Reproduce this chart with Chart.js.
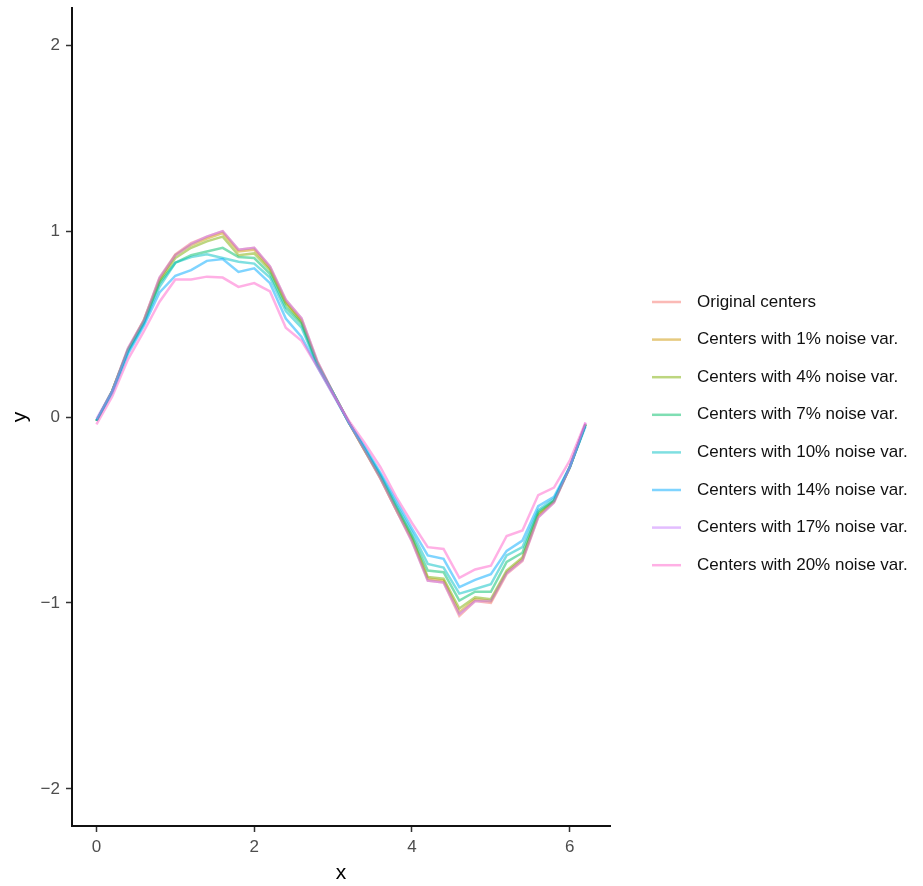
<!DOCTYPE html>
<html>
<head>
<meta charset="utf-8">
<script src="https://cdn.jsdelivr.net/npm/chart.js@4.4.1/dist/chart.umd.min.js"></script>
<style>
  html, body { margin: 0; background: #fff; }
  #wrap { width: 923px; height: 886px; }
</style>
</head>
<body>
<div id="wrap"><canvas id="centers" width="923" height="886"></canvas></div>
<script>
// x positions of the centers
const xValues = [0, 0.2, 0.4, 0.6, 0.8, 1, 1.2, 1.4, 1.6, 1.8, 2, 2.2, 2.4, 2.6, 2.8, 3,
                 3.2, 3.4, 3.6, 3.8, 4, 4.2, 4.4, 4.6, 4.8, 5, 5.2, 5.4, 5.6, 5.8, 6, 6.2];

const original = [-0.02, 0.14, 0.37, 0.52, 0.75, 0.875, 0.935, 0.97, 1.0, 0.90, 0.91, 0.81, 0.63, 0.53, 0.30, 0.13,
                  -0.03, -0.18, -0.33, -0.50, -0.67, -0.88, -0.89, -1.07, -0.99, -1.0, -0.845, -0.775, -0.54, -0.46, -0.27, -0.04];
const noise1 = [-0.02, 0.14, 0.36, 0.52, 0.74, 0.87, 0.925, 0.96, 0.99, 0.89, 0.90, 0.80, 0.62, 0.52, 0.29, 0.13,
                -0.03, -0.18, -0.33, -0.50, -0.66, -0.87, -0.88, -1.05, -0.98, -0.99, -0.835, -0.765, -0.53, -0.455, -0.27, -0.04];
const noise4 = [-0.02, 0.14, 0.36, 0.51, 0.73, 0.855, 0.91, 0.945, 0.97, 0.87, 0.88, 0.79, 0.61, 0.51, 0.29, 0.13,
                -0.03, -0.18, -0.32, -0.49, -0.65, -0.86, -0.87, -1.03, -0.97, -0.98, -0.826, -0.755, -0.52, -0.45, -0.27, -0.04];
const noise7 = [-0.02, 0.14, 0.36, 0.51, 0.72, 0.83, 0.87, 0.89, 0.91, 0.86, 0.855, 0.77, 0.59, 0.50, 0.28, 0.13,
                -0.03, -0.17, -0.32, -0.48, -0.64, -0.826, -0.835, -0.987, -0.94, -0.94, -0.78, -0.73, -0.51, -0.45, -0.27, -0.04];
const noise10 = [-0.02, 0.14, 0.35, 0.50, 0.70, 0.83, 0.86, 0.875, 0.855, 0.835, 0.825, 0.75, 0.57, 0.48, 0.28, 0.13,
                 -0.03, -0.17, -0.31, -0.47, -0.62, -0.79, -0.81, -0.95, -0.925, -0.90, -0.745, -0.70, -0.50, -0.44, -0.27, -0.04];
const noise14 = [-0.02, 0.13, 0.34, 0.49, 0.67, 0.76, 0.79, 0.84, 0.85, 0.78, 0.80, 0.72, 0.53, 0.43, 0.27, 0.12,
                 -0.03, -0.16, -0.30, -0.45, -0.60, -0.745, -0.763, -0.915, -0.876, -0.845, -0.72, -0.665, -0.48, -0.43, -0.27, -0.05];
const noise17 = [-0.01, 0.14, 0.37, 0.52, 0.75, 0.87, 0.93, 0.97, 1.0, 0.90, 0.91, 0.81, 0.63, 0.53, 0.30, 0.13,
                 -0.03, -0.18, -0.33, -0.50, -0.67, -0.88, -0.89, -1.06, -0.99, -0.99, -0.84, -0.77, -0.54, -0.46, -0.27, -0.03];
const noise20 = [-0.04, 0.11, 0.31, 0.46, 0.62, 0.74, 0.74, 0.755, 0.75, 0.70, 0.72, 0.675, 0.48, 0.41, 0.27, 0.12,
                 -0.02, -0.14, -0.27, -0.43, -0.57, -0.70, -0.71, -0.865, -0.82, -0.80, -0.64, -0.61, -0.42, -0.38, -0.235, -0.03];

const seriesNames = ['Original centers', 'Centers with 1% noise var.', 'Centers with 4% noise var.',
                     'Centers with 7% noise var.', 'Centers with 10% noise var.', 'Centers with 14% noise var.',
                     'Centers with 17% noise var.', 'Centers with 20% noise var.'];
const seriesValues = [original, noise1, noise4, noise7, noise10, noise14, noise17, noise20];
const seriesColors = ['#F8766D', '#CD9600', '#7CAE00', '#00BE67', '#00BFC4', '#00A9FF', '#C77CFF', '#FF61CC'];

const xTicks = [0, 2, 4, 6];
const yTicks = [-2, -1, 0, 1, 2];

const FONT = "'Liberation Sans', Arial, sans-serif";

function withAlpha(hex, a) {
    const n = parseInt(hex.slice(1), 16);
    return `rgba(${(n >> 16) & 255}, ${(n >> 8) & 255}, ${n & 255}, ${a})`;
}

function minusSign(v) {
    return v < 0 ? '\u2212' + Math.abs(v) : String(v);
}

// legend drawn to the right of the panel, one short line per series
const sideLegend = {
    id: 'sideLegend',
    afterDraw(chart) {
        const ctx = chart.ctx;
        ctx.save();
        ctx.font = `17px ${FONT}`;
        ctx.textBaseline = 'middle';
        ctx.textAlign = 'left';
        chart.data.datasets.forEach((ds, i) => {
            const y = 302 + i * 37.6;
            ctx.strokeStyle = ds.borderColor;
            ctx.lineWidth = 2.5;
            ctx.beginPath();
            ctx.moveTo(652, y);
            ctx.lineTo(681, y);
            ctx.stroke();
            ctx.fillStyle = '#111111';
            ctx.fillText(ds.label, 697, y);
        });
        ctx.restore();
    }
};

const datasets = seriesNames.map((name, i) => ({
    label: name,
    data: xValues.map((x, j) => ({ x: x, y: seriesValues[i][j] })),
    borderColor: withAlpha(seriesColors[i], 0.5),
    borderWidth: 2.5,
    pointRadius: 0,
    tension: 0,
    fill: false,
    order: seriesNames.length - i   // later series drawn on top
}));

const axisCommon = {
    type: 'linear',
    grid: {
        drawOnChartArea: false,
        drawTicks: true,
        tickLength: 6,
        tickWidth: 1.5,
        color: '#333333'
    },
    border: { display: true, color: '#111111', width: 2 },
    ticks: {
        color: '#4D4D4D',
        font: { family: FONT, size: 17 },
        callback: minusSign
    },
    title: {
        display: true,
        color: '#000000',
        font: { family: FONT, size: 21 }
    }
};

new Chart(document.getElementById('centers').getContext('2d'), {
    type: 'line',
    data: { datasets: datasets },
    options: {
        responsive: false,
        animation: false,
        devicePixelRatio: 1,
        layout: { padding: { left: 0, top: 8, right: 313, bottom: 0 } },
        plugins: {
            legend: { display: false },
            tooltip: { enabled: false }
        },
        scales: {
            x: {
                ...axisCommon,
                min: -0.31,
                max: 6.51,
                ticks: { ...axisCommon.ticks, padding: 5, maxRotation: 0 },
                title: { ...axisCommon.title, text: 'x', padding: { top: 1, bottom: 0 } },
                afterBuildTicks: scale => { scale.ticks = xTicks.map(v => ({ value: v })); },
                afterFit: scale => {
                    scale.height = 60;
                    scale.paddingLeft = 0;
                    scale.paddingRight = 0;
                }
            },
            y: {
                ...axisCommon,
                min: -2.2,
                max: 2.2,
                ticks: { ...axisCommon.ticks, padding: 6 },
                title: { ...axisCommon.title, text: 'y', padding: { top: 8, bottom: 0 } },
                afterBuildTicks: scale => { scale.ticks = yTicks.map(v => ({ value: v })); },
                afterFit: scale => {
                    scale.width = 72;
                    scale.paddingTop = 0;
                    scale.paddingBottom = 0;
                }
            }
        }
    },
    plugins: [sideLegend]
});
</script>
</body>
</html>
